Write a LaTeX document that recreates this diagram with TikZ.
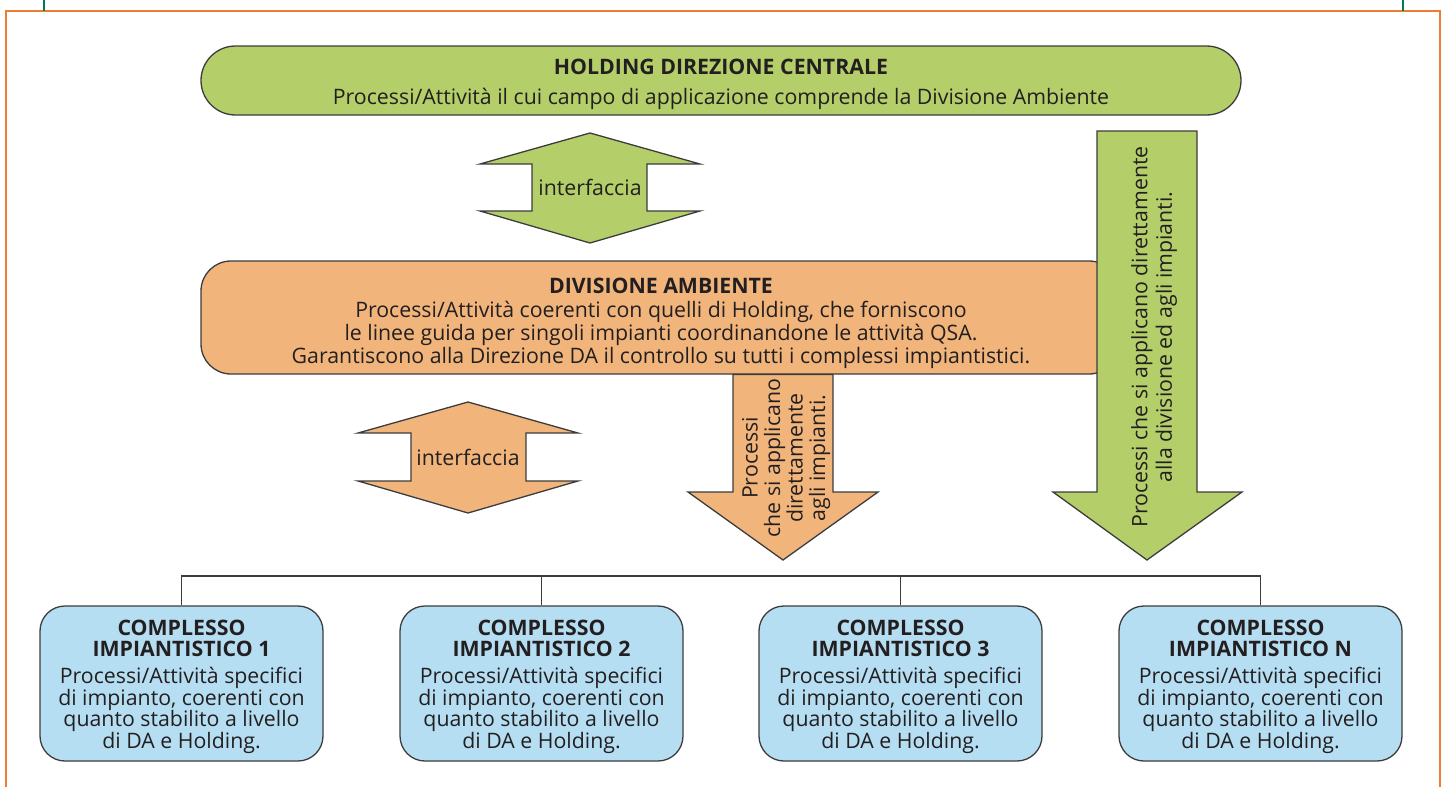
\documentclass[tikz,border=0pt]{standalone}
\usepackage{fontspec}
\setmainfont{Open Sans}
\definecolor{gfill}{RGB}{180,207,106}
\definecolor{ofill}{RGB}{241,181,124}
\definecolor{bfill}{RGB}{182,222,242}
\definecolor{framecol}{RGB}{237,125,49}
\definecolor{tickcol}{RGB}{0,122,80}
\definecolor{edgecol}{RGB}{60,60,60}
\definecolor{ink}{RGB}{35,31,32}
\begin{document}
\begin{tikzpicture}[x=1pt,y=-1pt,
  txt/.style={font=\fontsize{21.3}{21.5}\selectfont, text=ink, align=center, inner sep=0pt},
  outl/.style={draw=edgecol, line width=1.3pt, line join=miter},
  plantbox/.style={outl, fill=bfill, rounded corners=25pt, minimum width=283pt, minimum height=155pt},
  busline/.style={draw=edgecol, line width=1.5pt}]
\useasboundingbox (0,0) rectangle (1444,787);
% frame
\draw[framecol, line width=2pt] (6,790) -- (6,11) -- (1440,11) -- (1440,790);
\draw[tickcol, line width=2pt] (44,0) -- (44,11) (1403,0) -- (1403,11);

% holding
\node[outl, fill=gfill, rounded corners=34.5pt, minimum width=1040pt, minimum height=69pt] (holding) at (721,80.5) {};
\node[txt] (holdingtxt) at (721,84) {\textbf{HOLDING DIREZIONE CENTRALE}\\[8.5pt]Processi/Attività il cui campo di applicazione comprende la Divisione Ambiente};

% green interface arrow
\path[outl, fill=gfill] (590,133) -- (700,164) -- (647,164) -- (647,211) -- (700,211) -- (590,243) -- (480,211) -- (532,211) -- (532,164) -- (480,164) -- cycle;
\node[txt] (if1) at (590,187.5) {interfaccia};

% division
\node[outl, fill=ofill, rounded corners=30pt, minimum width=918pt, minimum height=113pt] (divisione) at (660,317.5) {};
\node[txt, font=\fontsize{21.3}{23}\selectfont] (divtxt) at (661,323.5) {\textbf{DIVISIONE AMBIENTE}\\[1pt]Processi/Attività coerenti con quelli di Holding, che forniscono\\le linee guida per singoli impianti coordinandone le attività QSA.\\Garantiscono alla Direzione DA il controllo su tutti i complessi impiantistici.};

% green long arrow
\path[outl, fill=gfill] (1097,131) -- (1197,131) -- (1197,492) -- (1242,492) -- (1147,560) -- (1053,492) -- (1097,492) -- cycle;
\node[txt, font=\fontsize{21.3}{24.5}\selectfont, rotate=90] (greentxt) at (1154,337) {Processi che si applicano direttamente\\alla divisione ed agli impianti.};

% orange down arrow
\path[outl, fill=ofill] (733,374.5) -- (833,374.5) -- (833,492) -- (878,492) -- (783,560) -- (688,492) -- (733,492) -- cycle;
\node[txt, font=\fontsize{21.3}{22.5}\selectfont, rotate=90] (orangetxt) at (786,458) {Processi\\che si applicano\\direttamente\\agli impianti.};

% orange interface arrow
\path[outl, fill=ofill] (468,402) -- (578,433) -- (526,433) -- (526,481) -- (578,481) -- (468,513) -- (358,481) -- (411,481) -- (411,433) -- (358,433) -- cycle;
\node[txt] (if2) at (468,457.5) {interfaccia};

% plant boxes
\node[plantbox] (c1) at (181.5,683.5) {};
\node[plantbox] (c2) at (541.5,683.5) {};
\node[plantbox] (c3) at (900.5,683.5) {};
\node[plantbox] (cN) at (1260.5,683.5) {};
\node[txt] (c1t) at ([yshift=-3pt]c1.center) {\textbf{COMPLESSO}\\\textbf{IMPIANTISTICO 1}\\[5.5pt]Processi/Attività specifici\\di impianto, coerenti con\\quanto stabilito a livello\\di DA e Holding.};
\node[txt] (c2t) at ([yshift=-3pt]c2.center) {\textbf{COMPLESSO}\\\textbf{IMPIANTISTICO 2}\\[5.5pt]Processi/Attività specifici\\di impianto, coerenti con\\quanto stabilito a livello\\di DA e Holding.};
\node[txt] (c3t) at ([yshift=-3pt]c3.center) {\textbf{COMPLESSO}\\\textbf{IMPIANTISTICO 3}\\[5.5pt]Processi/Attività specifici\\di impianto, coerenti con\\quanto stabilito a livello\\di DA e Holding.};
\node[txt] (cNt) at ([yshift=-3pt]cN.center) {\textbf{COMPLESSO}\\\textbf{IMPIANTISTICO N}\\[5.5pt]Processi/Attività specifici\\di impianto, coerenti con\\quanto stabilito a livello\\di DA e Holding.};

% bus
\coordinate (bus) at (0,576);
\draw[busline] (c1.north) -- (c1.north |- bus) -- (cN.north |- bus) -- (cN.north);
\draw[busline] (c2.north) -- (c2.north |- bus);
\draw[busline] (c3.north) -- (c3.north |- bus);
\end{tikzpicture}
\end{document}
